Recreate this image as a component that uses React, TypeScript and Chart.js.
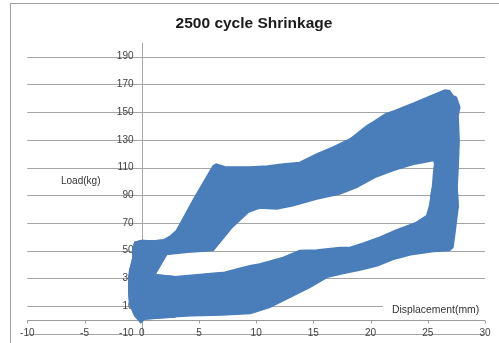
import React, { useEffect, useRef } from 'react';
import { Chart, registerables } from 'chart.js';

Chart.register(...registerables);

const TITLE = '2500 cycle Shrinkage';
const X_AXIS_TITLE = 'Displacement(mm)';
const Y_AXIS_TITLE = 'Load(kg)';
const X_TICKS = [-10, -5, 0, 5, 10, 15, 20, 25, 30];
const Y_TICKS = [-10, 10, 30, 50, 70, 90, 110, 130, 150, 170, 190];

// Upper arm of the hysteresis band (outer edge, then inner edge back)
const UPPER_X = [
  -1.14, -1.05, -0.9, -0.76, -0.8, -0.61, 0, 1, 1.9, 2.5, 3.03, 4.6, 6.24, 6.5, 7.26, 9.45, 11, 12.36, 13.8,
  15.3, 16.7, 18.2, 19.7, 20.4, 21.3, 22.1, 23.9, 25.3, 26.5, 26.9, 27.2, 27.5, 27.8, 27.65, 27.74,
  27.65, 27.56, 27.65,
  25.2, 25.35, 25.4, 25.5, 25.6, 25.5, 24.5, 23.9, 22.1, 20.4, 18.8, 17.3, 15.3, 13.2, 11.8, 10.3, 9.3, 7.85,
  6.24, 4, 2.16, 1.14, 0.5, -1.14,
];
const UPPER_Y = [
  25, 35.5, 40, 45.1, 50, 56, 57.3, 57, 57.7, 60.5, 64.4, 88, 111.3, 112.5, 110.6, 110.3, 111, 112.6, 113.7,
  119.8, 124.6, 130.6, 140.2, 143.8, 148.7, 151, 157, 161.9, 166, 165.5, 161.9, 160.7, 153.4, 147.4, 129.4,
  110, 95.7, 81.2,
  83.7, 93.3, 95, 105, 113, 115, 113.5, 112.6, 108.2, 102.9, 95.7, 90.9, 87.3, 82.4, 80.1, 80.8, 77.6, 66.3,
  50, 48.8, 47.1, 32.6, 26, 25,
];

// Lower arm of the hysteresis band (outer edge, then inner edge back)
const LOWER_X = [
  -1.05, -1.14, -1.05, -0.61, -0.09, 0.26, 2, 4.35, 7, 9.5, 11.2, 12.95, 14.7, 16.2, 17.6, 19.1,
  20.6, 22.1, 23.5, 25.5, 26.9, 27.2, 27.36, 27.5, 27.65, 27.56,
  25.4, 25.35, 25.2, 24.9, 24.0, 22.26, 20.8, 19.34, 18.18, 17.3, 15.3, 13.8, 12.36, 10.3, 9.45,
  7.26, 2.89, 1.14, -1.05,
];
const LOWER_Y = [
  35.5, 21.1, 11.5, 3, -1.8, 0.6, 1.8, 3, 3.5, 4.5, 9, 16.2, 23.5, 30.7, 33.5, 36,
  39, 44, 47, 49.3, 50, 52.3, 62, 71.6, 81.2, 95.7,
  95, 93.3, 83.7, 75.2, 70.4, 64.9, 59.6, 55.3, 52.3, 52.3, 50.5, 50, 45.1, 40.4, 39,
  34.3, 31.2, 32.6, 35.5,
];

// Left end block where the arms meet
const LEFT_X = [
  -1.14, -1.05, -0.76, -0.61, 0, 1, 1.9, 2.16, 1.14, 2.89, 2.89, 0.26, -0.09, -0.61, -1.05, -1.14,
];
const LEFT_Y = [
  21.1, 35.5, 45.1, 56, 57.3, 57, 57.7, 47.1, 32.6, 31.2, 2, 0.6, -1.8, 3, 11.5, 21.1,
];

// Thin light streaks visible inside the band
const STREAK1_X = [20.6, 23.7];
const STREAK1_Y = [57.8, 69.4];
const STREAK2_X = [6.97, 8.57];
const STREAK2_Y = [33.1, 37.5];

const BLUE = '#4a7ebb';
const GRID = '#a6a6a6';
const FONT = '"Liberation Sans", Arial, sans-serif';

const pts = (xs: number[], ys: number[]) => xs.map((x, i) => ({ x, y: ys[i] }));

const excelFrame = {
  id: 'excelFrame',
  beforeDatasetsDraw(chart: any) {
    const { ctx } = chart;
    const xs = chart.scales.x;
    const ys = chart.scales.y;
    ctx.save();

    // outer chart border
    ctx.strokeStyle = '#a0a0a0';
    ctx.lineWidth = 1;
    ctx.strokeRect(10.5, 3.5, 600, 600);

    // title
    ctx.fillStyle = '#1a1a1a';
    ctx.font = `bold 15.5px ${FONT}`;
    ctx.textAlign = 'center';
    ctx.textBaseline = 'middle';
    ctx.fillText(TITLE, 254, 24);

    const left = xs.getPixelForValue(-10);
    const right = xs.getPixelForValue(30);

    // horizontal gridlines
    ctx.strokeStyle = GRID;
    ctx.lineWidth = 1;
    for (const v of Y_TICKS) {
      const py = Math.round(ys.getPixelForValue(v)) + 0.5;
      ctx.beginPath();
      ctx.moveTo(left, py);
      ctx.lineTo(right, py);
      ctx.stroke();
    }

    // vertical axis at x = 0
    const ax = Math.round(xs.getPixelForValue(0)) + 0.5;
    ctx.beginPath();
    ctx.moveTo(ax, ys.getPixelForValue(200));
    ctx.lineTo(ax, ys.getPixelForValue(-10));
    ctx.stroke();

    // horizontal axis at y = 0 with tick marks
    const ay = Math.round(ys.getPixelForValue(0)) + 0.5;
    ctx.strokeStyle = '#9a9a9a';
    ctx.beginPath();
    ctx.moveTo(left, ay);
    ctx.lineTo(right, ay);
    for (const v of X_TICKS) {
      const px = Math.round(xs.getPixelForValue(v)) + 0.5;
      ctx.moveTo(px, ay);
      ctx.lineTo(px, ay + 3);
    }
    ctx.stroke();

    // tick labels
    ctx.fillStyle = '#404040';
    ctx.font = `10px ${FONT}`;
    ctx.textBaseline = 'middle';
    ctx.textAlign = 'right';
    for (const v of Y_TICKS) {
      ctx.fillText(String(v), 133.5, ys.getPixelForValue(v));
    }
    ctx.textAlign = 'center';
    const ly = ys.getPixelForValue(-10);
    for (const v of X_TICKS) {
      ctx.fillText(String(v), xs.getPixelForValue(v), ly);
    }

    // axis titles
    ctx.fillStyle = '#ffffff';
    ctx.fillRect(383, 300, 104, 16);
    ctx.fillStyle = '#333333';
    ctx.textAlign = 'left';
    ctx.font = `10.4px ${FONT}`;
    ctx.fillText(X_AXIS_TITLE, 392, 310);
    ctx.font = `10px ${FONT}`;
    ctx.fillText(Y_AXIS_TITLE, 61, 181);

    ctx.restore();
  },
};

export default function App() {
  const ref = useRef<HTMLCanvasElement>(null);

  useEffect(() => {
    const polygon = (xs: number[], ys: number[]) => ({
      data: pts(xs, ys),
      showLine: true,
      fill: 'shape',
      backgroundColor: BLUE,
      borderColor: BLUE,
      borderWidth: 1.5,
      pointRadius: 0,
      tension: 0,
    });
    const streak = (xs: number[], ys: number[]) => ({
      data: pts(xs, ys),
      showLine: true,
      fill: false,
      borderColor: 'rgba(235,242,250,0.85)',
      borderWidth: 1,
      pointRadius: 0,
      tension: 0,
    });
    const chart = new Chart(ref.current as HTMLCanvasElement, {
      type: 'scatter',
      data: {
        datasets: [
          polygon(UPPER_X, UPPER_Y),
          polygon(LOWER_X, LOWER_Y),
          polygon(LEFT_X, LEFT_Y),
          streak(STREAK1_X, STREAK1_Y),
          streak(STREAK2_X, STREAK2_Y),
        ] as any,
      },
      options: {
        responsive: false,
        maintainAspectRatio: false,
        animation: false,
        devicePixelRatio: 1,
        layout: { padding: { left: 27.3, right: 14, top: 42.85, bottom: 9.3 } },
        scales: {
          x: { type: 'linear', min: -10, max: 30, display: false },
          y: { type: 'linear', min: -10, max: 200, display: false },
        },
        plugins: {
          legend: { display: false },
          tooltip: { enabled: false },
          title: { display: false },
        },
      },
      plugins: [excelFrame],
    });
    return () => chart.destroy();
  }, []);

  return (
    <div style={{ position: 'fixed', left: 0, top: 0, width: 499, height: 343, background: '#ffffff' }}>
      <canvas ref={ref} width={499} height={343} style={{ display: 'block', width: 499, height: 343 }} />
    </div>
  );
}
